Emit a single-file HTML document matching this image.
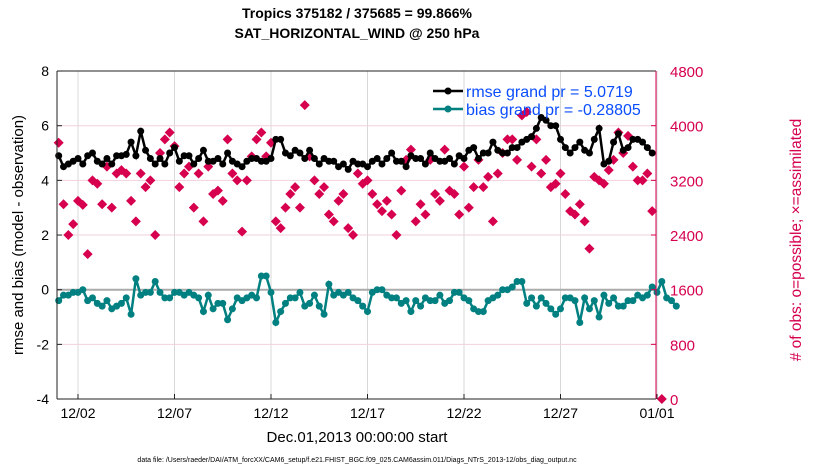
<!DOCTYPE html>
<html><head><meta charset="utf-8"><style>
body{margin:0;background:#fff;}
svg{display:block;font-family:"Liberation Sans",sans-serif;}
</style></head><body>
<svg id="chart" width="830" height="470">
<text x="357" y="18" text-anchor="middle" font-size="14" font-weight="bold">Tropics 375182 / 375685 = 99.866%</text>
<text x="357" y="38" text-anchor="middle" font-size="14" font-weight="bold">SAT_HORIZONTAL_WIND @ 250 hPa</text>
<g id="grid"></g><g id="marks"></g><g id="axes"></g>
<text transform="translate(23,235) rotate(-90)" text-anchor="middle" font-size="15">rmse and bias (model - observation)</text>
<text transform="translate(801,240) rotate(-90)" text-anchor="middle" font-size="15.5" fill="#d6004f"># of obs: o=possible; ×=assimilated</text>
<text x="357" y="442" text-anchor="middle" font-size="15">Dec.01,2013 00:00:00 start</text>
<text x="357" y="462" text-anchor="middle" font-size="7">data file: /Users/raeder/DAI/ATM_forcXX/CAM6_setup/f.e21.FHIST_BGC.f09_025.CAM6assim.011/Diags_NTrS_2013-12/obs_diag_output.nc</text>
<g>
<line x1="433" y1="91" x2="463" y2="91" stroke="#000" stroke-width="2.5"/><circle cx="448" cy="91" r="3.5" fill="#000"/>
<text x="466" y="97" font-size="16" fill="#0a4dff">rmse grand pr = 5.0719</text>
<line x1="433" y1="109" x2="463" y2="109" stroke="#008080" stroke-width="2.5"/><circle cx="448" cy="109" r="3.5" fill="#008080"/>
<text x="466" y="115" font-size="16" fill="#0a4dff">bias grand pr = -0.28805</text>
</g>
</svg>
<script>
const xTickLabels=["12/02","12/07","12/12","12/17","12/22","12/27","01/01"];
const xTickDays=[1,6,11,16,21,26,31];
const yLeftTicks=[-4,-2,0,2,4,6,8];
const yRightTicks=[0,800,1600,2400,3200,4000,4800];
const rmse=[4.9,4.5,4.6,4.7,4.8,4.6,4.9,5.0,4.7,4.6,4.8,4.6,4.9,4.9,4.95,5.4,4.9,5.8,5.1,4.8,4.6,4.8,4.6,5.0,5.2,4.7,4.9,4.9,4.6,4.8,5.1,4.7,4.7,4.8,4.6,5.0,4.7,4.6,4.5,4.7,4.8,4.8,4.7,4.7,4.8,5.5,5.5,5.0,4.9,5.1,5.0,4.8,5.1,4.8,4.6,4.8,4.7,4.7,4.5,4.6,4.4,4.7,4.6,4.6,4.5,4.7,4.8,4.6,4.8,5.0,4.7,4.7,4.5,4.9,4.8,4.8,4.6,5.0,4.8,4.7,4.7,4.8,4.6,4.9,4.8,5.1,5.2,4.8,5.0,5.0,5.4,5.1,5.0,5.0,5.2,5.2,5.4,5.5,5.6,5.9,6.3,6.2,6.0,6.0,5.5,5.2,5.0,5.2,5.4,5.1,5.0,5.5,5.9,4.6,4.7,5.4,5.7,5.1,5.2,5.5,5.5,5.4,5.2,5.0];
const bias=[-0.4,-0.2,-0.2,-0.1,-0.1,0.0,-0.4,-0.3,-0.5,-0.6,-0.4,-0.7,-0.6,-0.5,-0.3,-0.9,0.4,-0.2,-0.1,-0.1,0.3,-0.1,-0.3,-0.3,-0.1,-0.1,-0.2,-0.1,-0.2,-0.3,-0.8,-0.2,-0.7,-0.5,-0.5,-1.1,-0.7,-0.3,-0.4,-0.3,-0.2,-0.3,0.5,0.5,-0.1,-1.2,-0.8,-0.5,-0.3,-0.3,-0.1,-0.6,-0.5,-0.2,-0.6,-0.9,0.2,-0.2,-0.1,-0.2,-0.1,-0.3,-0.4,-0.6,-0.8,-0.1,0.0,0.0,-0.2,-0.3,-0.3,-0.5,-0.4,-0.8,-0.4,-0.6,-0.3,-0.4,-0.4,-0.2,-0.5,-0.4,-0.1,-0.1,-0.3,-0.4,-0.7,-0.8,-0.8,-0.4,-0.3,-0.2,0.0,0.0,0.1,0.3,0.3,-0.5,-0.3,-0.6,-0.3,-0.5,-0.7,-0.9,-0.7,-0.3,-0.3,-0.4,-1.2,-0.3,-0.7,-0.4,-1.0,-0.2,-0.5,-0.3,-0.6,-0.6,-0.4,-0.4,-0.2,-0.3,-0.2,0.1,-0.1,0.3,-0.3,-0.4,-0.6];
const obsCount=[3750,2850,2400,2560,2900,2840,2120,3200,3150,2850,3400,2800,3300,3350,3300,2900,2600,3300,3100,3200,2400,3600,3800,3900,3700,3100,3300,3400,2800,3300,2600,3400,3000,3050,2900,3800,3300,3200,2450,3200,3550,3800,3900,3550,3750,2600,2500,2800,3000,3100,2800,4300,3550,3200,3000,3100,2700,2600,2900,3000,2500,2400,3300,3150,3200,3000,2850,2750,2900,2700,2400,3050,3500,3650,2600,2850,2700,3500,3000,2900,3650,3050,3000,2700,3400,2800,3100,3500,3100,3250,2600,3300,3600,3800,3800,3500,4150,4200,3400,3800,3300,3500,3100,3150,3300,3000,2750,2700,2850,2600,2200,3250,3200,3150,3350,3500,3900,3600,3850,3400,3200,3200,3300,2750,0];
const SX=d=>58.7+d*19.3;
const SY=v=>289.7-v*27.333;
const SR=v=>399-v*(328/4800);
const NS="http://www.w3.org/2000/svg";
function mk(tag,attrs,parent){const e=document.createElementNS(NS,tag);for(const k in attrs)e.setAttribute(k,attrs[k]);parent.appendChild(e);return e;}
const grid=document.getElementById('grid'),marks=document.getElementById('marks'),axes=document.getElementById('axes');
const L=57,R=656,T=71,B=399;
xTickDays.forEach((d,i)=>{
 const x=SX(d);
 const g=mk('line',{x1:x,y1:T,x2:x,y2:B,stroke:'#d8d8d8','stroke-width':1},grid);
 
 
 mk('line',{x1:x,y1:B,x2:x,y2:B-5,stroke:'#222'},axes);
 const t=mk('text',{x:x,y:418,'text-anchor':'middle','font-size':14},axes);
 t.textContent=xTickLabels[i];
 
 
});
yLeftTicks.forEach(v=>{
 const y=SY(v);
 if(v!==0&&v!==8&&v!==-4){const g=mk('line',{x1:L,y1:y,x2:R,y2:y,stroke:'#f2d0dc','stroke-width':1},grid);
 
 }
 mk('line',{x1:L,y1:y,x2:L+5,y2:y,stroke:'#222'},axes);
 const t=mk('text',{x:L-8,y:y+5,'text-anchor':'end','font-size':14},axes);
 t.textContent=v;
 
 
});
yRightTicks.forEach(v=>{
 const y=SR(v);
 mk('line',{x1:R,y1:y,x2:R-5,y2:y,stroke:'#d6004f'},axes);
 const t=mk('text',{x:R+14,y:y+6,'font-size':15,fill:'#d6004f'},axes);
 t.textContent=v;
 
 
});
const z=mk('line',{x1:L,y1:SY(0),x2:R,y2:SY(0),stroke:'#aaa','stroke-width':2},grid);


mk('line',{x1:L,y1:T,x2:R,y2:T,stroke:'#222'},axes);
mk('line',{x1:L,y1:T,x2:L,y2:B,stroke:'#222'},axes);
mk('line',{x1:L,y1:B,x2:R,y2:B,stroke:'#222'},axes);
mk('line',{x1:R,y1:T,x2:R,y2:B,stroke:'#d6004f'},axes);
obsCount.forEach((v,i)=>{
 const x=SX(i*0.25+(i===obsCount.length-1?0.25:0)),y=SR(v);
 const p=mk('polygon',{points:`${x},${y-5} ${x+5},${y} ${x},${y+5} ${x-5},${y}`,fill:'#d6004f'},marks);
 
 
});
function series(vals,color,name){
 const pts=vals.map((v,i)=>`${SX(i*0.25)},${SY(v)}`).join(' ');
 const pl=mk('polyline',{points:pts,fill:'none',stroke:color,'stroke-width':2.5},marks);
 
 
 vals.forEach((v,i)=>{
  const c=mk('circle',{cx:SX(i*0.25),cy:SY(v),r:3.5,fill:color},marks);
  
  
 });
}
series(rmse,'#000','rmse');
series(bias,'#008080','bias');
</script>
</body></html>
